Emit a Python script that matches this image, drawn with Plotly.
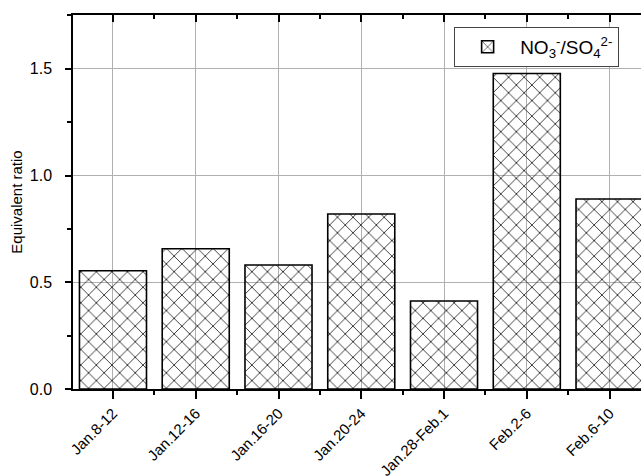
import plotly.graph_objects as go

# Sampling periods and NO3-/SO4 2- equivalent ratios
periods = ["Jan.8-12", "Jan.12-16", "Jan.16-20", "Jan.20-24",
           "Jan.28-Feb.1", "Feb.2-6", "Feb.6-10"]
ratios = [0.554, 0.657, 0.581, 0.820, 0.412, 1.478, 0.890]
y_ticks = [0.0, 0.5, 1.0, 1.5]
y_tick_labels = ["0.0", "0.5", "1.0", "1.5"]

positions = list(range(len(periods)))
font_family = "Liberation Sans, Arial, sans-serif"

fig = go.Figure()
fig.add_trace(go.Bar(
    x=positions,
    y=ratios,
    width=0.81,
    name="NO<sub>3</sub><sup>-</sup>/SO<sub>4</sub><sup>2-</sup>",
    marker=dict(
        line=dict(color="black", width=1.6),
        pattern=dict(shape="x", size=11, solidity=0.15,
                     fgcolor="#222222", fillmode="replace"),
    ),
    showlegend=True,
))

fig.update_layout(
    width=641, height=476,
    margin=dict(l=73, r=0, t=15, b=87),
    paper_bgcolor="white",
    plot_bgcolor="white",
    font=dict(family=font_family, color="black"),
    showlegend=True,
    legend=dict(
        x=0.671, y=0.968, xanchor="left", yanchor="top",
        bgcolor="white", bordercolor="#444444", borderwidth=1,
        font=dict(size=19, family=font_family),
        itemwidth=55,
    ),
    xaxis=dict(
        range=[-0.483, 6.38],
        automargin=False,
        tickmode="array", tickvals=positions, ticktext=periods,
        tickangle=-45,
        tickfont=dict(size=15),
        ticks="outside", ticklen=8, tickwidth=1.5, tickcolor="black",
        minor=dict(dtick=0.5, tick0=0.5, ticks="outside", ticklen=4,
                   tickwidth=1.5, tickcolor="black", showgrid=False),
        showline=True, linecolor="black", linewidth=1.5,
        showgrid=True, gridcolor="#b0b0b0", gridwidth=1,
        zeroline=False,
    ),
    xaxis2=dict(
        overlaying="x", side="top", anchor="y", matches="x",
        range=[-0.483, 6.38],
        automargin=False,
        tickmode="array", tickvals=positions, showticklabels=False,
        ticks="inside", ticklen=7, tickwidth=1.5, tickcolor="black",
        minor=dict(dtick=0.5, tick0=0.5, ticks="inside", ticklen=4,
                   tickwidth=1.5, tickcolor="black", showgrid=False),
        showline=True, linecolor="black", linewidth=1.5,
        showgrid=False, zeroline=False,
    ),
    yaxis=dict(
        range=[0, 1.752],
        automargin=False,
        tickmode="array", tickvals=y_ticks, ticktext=y_tick_labels,
        tickfont=dict(size=16),
        ticks="outside", ticklen=6, tickwidth=1.5, tickcolor="black",
        ticklabelstandoff=10,
        minor=dict(dtick=0.25, tick0=0, ticks="outside", ticklen=4,
                   tickwidth=1.5, tickcolor="black", showgrid=False),
        showline=True, linecolor="black", linewidth=1.5,
        showgrid=True, gridcolor="#b0b0b0", gridwidth=1,
        zeroline=False,
        title=dict(text="Equivalent ratio", font=dict(size=15), standoff=4),
    ),
)

# Invisible trace so the top axis is drawn
fig.add_trace(go.Scatter(x=[positions[0]], y=[0], xaxis="x2", yaxis="y",
                         mode="markers", marker=dict(opacity=0),
                         showlegend=False, hoverinfo="skip"))

fig.write_html("out.html")
